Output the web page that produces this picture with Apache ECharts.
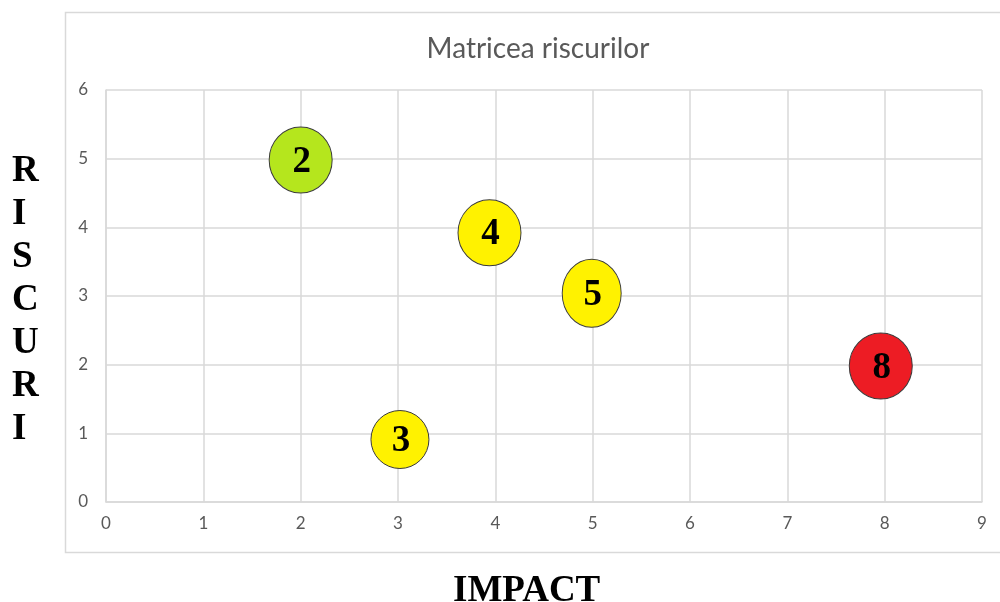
<!DOCTYPE html>
<html>
<head>
<meta charset="utf-8">
<style>
  html, body { margin: 0; padding: 0; background: #ffffff; }
  #chart { width: 1000px; height: 602px; }
</style>
<script src="https://cdn.jsdelivr.net/npm/echarts@6/dist/echarts.min.js"></script>
</head>
<body>
<div id="chart"></div>
<script>
// Risk matrix: impact (x) against risk level (y), one bubble per risk score
const impact = [2, 3.94, 4.99, 3.02, 7.96];
const risk = [4.98, 3.92, 3.04, 0.91, 1.98];
const scores = ['2', '4', '5', '3', '8'];
const fills = ['#b5e61d', '#fff200', '#fff200', '#fff200', '#ed1c24'];
const bubbleSizes = [[63, 66], [63, 66], [59, 68], [58, 58], [63, 66]];

const xTicks = [0, 1, 2, 3, 4, 5, 6, 7, 8, 9];
const yTicks = [0, 1, 2, 3, 4, 5, 6];

const points = impact.map((x, i) => ({
  value: [x, risk[i]],
  name: scores[i],
  symbolSize: bubbleSizes[i],
  itemStyle: { color: fills[i] }
}));

const tickFont = { color: '#595959', fontSize: 17, fontFamily: 'Lato, "Liberation Sans", sans-serif' };
const gridColor = '#d9d9d9';

const chart = echarts.init(document.getElementById('chart'), null, { renderer: 'canvas' });
chart.setOption({
  animation: false,
  backgroundColor: '#ffffff',
  title: {
    text: 'Matricea riscurilor',
    left: 533,
    top: 30,
    textAlign: 'center',
    textStyle: { color: '#595959', fontSize: 28, fontWeight: 'normal', fontFamily: 'Lato, "Liberation Sans", sans-serif' }
  },
  grid: { left: 106, right: 18, top: 90, bottom: 100 },
  xAxis: {
    type: 'value',
    min: xTicks[0],
    max: xTicks[xTicks.length - 1],
    interval: 1,
    axisLine: { show: true, lineStyle: { color: gridColor, width: 1.5 } },
    axisTick: { show: false },
    splitLine: { show: true, lineStyle: { color: gridColor, width: 1.5 } },
    axisLabel: Object.assign({ margin: 13 }, tickFont)
  },
  yAxis: {
    type: 'value',
    min: yTicks[0],
    max: yTicks[yTicks.length - 1],
    interval: 1,
    axisLine: { show: true, lineStyle: { color: gridColor, width: 1.5 } },
    axisTick: { show: false },
    splitLine: { show: true, lineStyle: { color: gridColor, width: 1.5 } },
    axisLabel: Object.assign({ margin: 18 }, tickFont)
  },
  series: [{
    type: 'scatter',
    symbol: 'circle',
    data: points,
    itemStyle: { borderColor: '#3a3a3a', borderWidth: 1, opacity: 1 },
    label: {
      show: true,
      position: 'inside',
      offset: [1, 2],
      formatter: p => p.name,
      color: '#000000',
      fontSize: 37,
      fontWeight: 'bold',
      fontFamily: '"Liberation Serif", "DejaVu Serif", serif'
    }
  }],
  graphic: [
    {
      type: 'rect',
      silent: true,
      z: -1,
      shape: { x: 65.5, y: 12.5, width: 960, height: 540 },
      style: { fill: 'none', stroke: gridColor, lineWidth: 1.5 }
    },
    {
      type: 'text',
      left: 12,
      top: 150,
      style: {
        text: 'R\nI\nS\nC\nU\nR\nI',
        fill: '#000000',
        font: 'bold 37px "Liberation Serif", serif',
        lineHeight: 43,
        textAlign: 'left'
      }
    },
    {
      type: 'text',
      left: 453,
      top: 573,
      style: {
        text: 'IMPACT',
        fill: '#000000',
        font: 'bold 37px "Liberation Serif", serif'
      }
    }
  ]
});
</script>
</body>
</html>
